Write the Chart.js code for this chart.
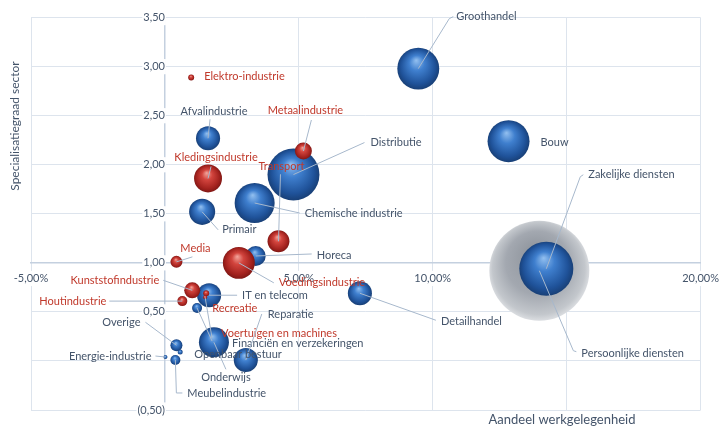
<!DOCTYPE html>
<html>
<head>
<meta charset="utf-8">
<script src="https://cdn.jsdelivr.net/npm/chart.js@4/dist/chart.umd.min.js"></script>
<style>
  html, body { margin: 0; padding: 0; background: #fff; }
  #wrap { width: 728px; height: 428px; }
</style>
</head>
<body>
<div id="wrap"><canvas id="chart"></canvas></div>
<script>
// blauwe sectoren
const blueNames = ["Groothandel", "Bouw", "Zakelijke diensten", "Distributie", "Chemische industrie",
  "Afvalindustrie", "Primair", "Horeca", "Detailhandel", "IT en telecom", "Financiën en verzekeringen",
  "Onderwijs", "Reparatie", "Openbaar bestuur", "Overige", "Energie-industrie", "Meubelindustrie"];
const blueX = [9.46, 12.83, 14.24, 4.80, 3.35, 1.61, 1.39, 3.39, 7.28, 1.65, 1.20, 1.83, 3.02, 0.57, 0.43, 0.02, 0.39];
const blueY = [2.98, 2.24, 0.94, 1.90, 1.61, 2.27, 1.52, 1.07, 0.69, 0.67, 0.54, 0.19, 0.01, 0.09, 0.16, 0.04, 0.01];
const blueSize = [17.6, 17.6, 29.2, 27, 16, 5.8, 6.8, 4, 5.8, 5.8, 1, 9, 5.8, 0.25, 1.44, 0.16, 1];

// rode sectoren
const redNames = ["Elektro-industrie", "Metaalindustrie", "Kledingsindustrie", "Transport", "Media",
  "Voedingsindustrie", "Kunststofindustrie", "Houtindustrie", "Recreatie", "Voertuigen en machines"];
const redX = [0.98, 5.17, 1.61, 4.24, 0.43, 2.76, 1.02, 0.65, 1.54, 1.50];
const redY = [2.89, 2.14, 1.86, 1.22, 1.01, 1.00, 0.72, 0.61, 0.69, 0.65];
const redSize = [0.36, 2.9, 7.8, 4.8, 1.44, 10.2, 2.56, 1, 0.36, 0.16];

// grijze sector
const greyNames = ["Persoonlijke diensten"];
const greyX = [13.98];
const greyY = [0.92];
const greySize = [100];

// label placement: [dx, dy, align, leader points] relative to the bubble (px)
const bluePlace = [
  [38, -52, "left", [[35, -52], [31, -50]]],
  [32, 1, "left", null],
  [42, -94, "left", [[37, -94], [34, -92]]],
  [77, -32, "left", [[71, -32]]],
  [50, 10, "left", [[45, 10]]],
  [6, -27, "center", [[2, -19]]],
  [20, 18, "left", [[16, 18]]],
  [61, -1, "left", [[56, -2]]],
  [81, 28, "left", [[76, 27]]],
  [33, 0, "left", [[28, 0]]],
  [35, 35, "left", [[15, 33]]],
  [12, 35, "center", [[12, 27]]],
  [22, -46, "left", [[16, -46]]],
  [14, 2, "left", null],
  [-36, -23, "right", [[-31, -23]]],
  [-14, -1, "right", [[-10, -1]]],
  [12, 33, "left", [[7, 33], [1, 33]]]
];
const redPlace = [
  [13, -1, "left", null],
  [2, -41, "center", [[8, -31]]],
  [8, -21, "center", [[3, -12]]],
  [3, -75, "center", [[2, -67]]],
  [19, -13, "center", [[16, -5]]],
  [40, 20, "left", [[35, 20]]],
  [-33, -10, "right", [[-29, -10]]],
  [-76, 0, "right", [[-73, 0]]],
  [6, 15, "left", null],
  [16, 36, "left", [[7, 41]]]
];
const greyPlace = [[42, 83, "left", [[37, 81], [34, 80]]]];

const FONT = "Lato, 'Open Sans', sans-serif";
const TEXT = "#44546a";
const RED_TEXT = "#c0392b";

function points(xs, ys, sizes) {
  return xs.map((x, i) => ({ x: x, y: ys[i], r: 5 * Math.sqrt(sizes[i]) }));
}

function shade(stops) {
  return (ctx) => {
    const chart = ctx.chart;
    const raw = ctx.raw;
    if (!raw || !chart.chartArea || !chart.scales.x) return stops[1][1];
    const cx = chart.scales.x.getPixelForValue(raw.x);
    const cy = chart.scales.y.getPixelForValue(raw.y);
    const r = Math.max(raw.r, 1);
    const g = chart.ctx.createRadialGradient(cx - r * 0.1, cy - r * 0.4, 0, cx, cy, r * 1.05);
    stops.forEach(s => g.addColorStop(s[0], s[1]));
    return g;
  };
}

const blueShade = shade([[0, "#93c0f0"], [0.35, "#3f7fce"], [0.78, "#1f5299"], [1, "#173c70"]]);
const redShade = shade([[0, "#f3a59c"], [0.35, "#d2443d"], [0.78, "#a3221e"], [1, "#7a1613"]]);
const greyShade = shade([[0, "#8d939b"], [0.6, "#a3a8b0"], [0.88, "#c3c7cc"], [1, "#e4e6e9"]]);

const labelPlugin = {
  id: "sectorLabels",
  afterDatasetsDraw(chart) {
    const ctx = chart.ctx;
    ctx.save();
    ctx.font = "11px " + FONT;
    ctx.textBaseline = "middle";
    chart.data.datasets.forEach((ds, di) => {
      const meta = chart.getDatasetMeta(di);
      meta.data.forEach((el, i) => {
        const p = ds.place[i];
        const lead = p[3];
        if (lead) {
          ctx.strokeStyle = "#a7b8cc";
          ctx.lineWidth = 1;
          ctx.beginPath();
          ctx.moveTo(el.x + lead[0][0], el.y + lead[0][1]);
          for (let k = 1; k < lead.length; k++) ctx.lineTo(el.x + lead[k][0], el.y + lead[k][1]);
          ctx.lineTo(el.x, el.y);
          ctx.stroke();
        }
        ctx.fillStyle = ds.textColor;
        ctx.textAlign = p[2];
        ctx.fillText(ds.names[i], el.x + p[0], el.y + p[1]);
      });
    });
    ctx.restore();
  }
};

const titlePlugin = {
  id: "axisTitles",
  afterDraw(chart) {
    const ctx = chart.ctx;
    ctx.save();
    ctx.fillStyle = TEXT;
    ctx.textAlign = "center";
    ctx.textBaseline = "middle";
    ctx.font = "13px " + FONT;
    ctx.fillText("Aandeel werkgelegenheid", 562, 420);
    ctx.font = "12px " + FONT;
    ctx.translate(15, 126);
    ctx.rotate(-Math.PI / 2);
    ctx.fillText("Specialisatiegraad sector", 0, 0);
    ctx.restore();
  }
};

function fmtNum(v) {
  return Math.abs(v).toFixed(2).replace(".", ",");
}

new Chart(document.getElementById("chart"), {
  type: "bubble",
  data: {
    datasets: [
      { label: "rood", data: points(redX, redY, redSize), names: redNames, place: redPlace,
        textColor: RED_TEXT, backgroundColor: redShade, borderWidth: 0 },
      { label: "blauw", data: points(blueX, blueY, blueSize), names: blueNames, place: bluePlace,
        textColor: TEXT, backgroundColor: blueShade, borderWidth: 0 },
      { label: "grijs", data: points(greyX, greyY, greySize), names: greyNames, place: greyPlace,
        textColor: TEXT, backgroundColor: greyShade, borderWidth: 0 }
    ]
  },
  options: {
    responsive: true,
    maintainAspectRatio: false,
    animation: false,
    events: [],
    layout: { autoPadding: false, padding: { left: 31, right: 22, top: 15, bottom: 18 } },
    plugins: { legend: { display: false }, tooltip: { enabled: false } },
    scales: {
      x: {
        type: "linear",
        position: { y: 1 },
        min: -5,
        max: 20,
        ticks: {
          stepSize: 5,
          padding: 9,
          color: TEXT,
          font: { family: FONT, size: 11 },
          showLabelBackdrop: true,
          backdropPadding: 1,
          backdropColor: (c) => (c.tick && c.tick.value === 0 ? "rgba(0,0,0,0)" : "#fff"),
          callback: (v) => (v === 0 ? "" : (v < 0 ? "-" : "") + fmtNum(v) + "%")
        },
        grid: { color: "#dde4ed", drawTicks: false },
        border: { color: "#c4d0df", width: 1.5 }
      },
      y: {
        type: "linear",
        position: { x: 0 },
        min: -0.5,
        max: 3.5,
        ticks: {
          stepSize: 0.5,
          padding: 11,
          color: TEXT,
          font: { family: FONT, size: 11 },
          showLabelBackdrop: true,
          backdropPadding: 1,
          backdropColor: (c) => (c.tick && c.tick.value === 0 ? "rgba(0,0,0,0)" : "#fff"),
          callback: (v) => (v === 0 ? "" : v < 0 ? "(" + fmtNum(v) + ")" : fmtNum(v))
        },
        grid: { color: "#dde4ed", drawTicks: false },
        border: { color: "#c4d0df", width: 1.5 }
      }
    }
  },
  plugins: [labelPlugin, titlePlugin]
});
</script>
</body>
</html>
